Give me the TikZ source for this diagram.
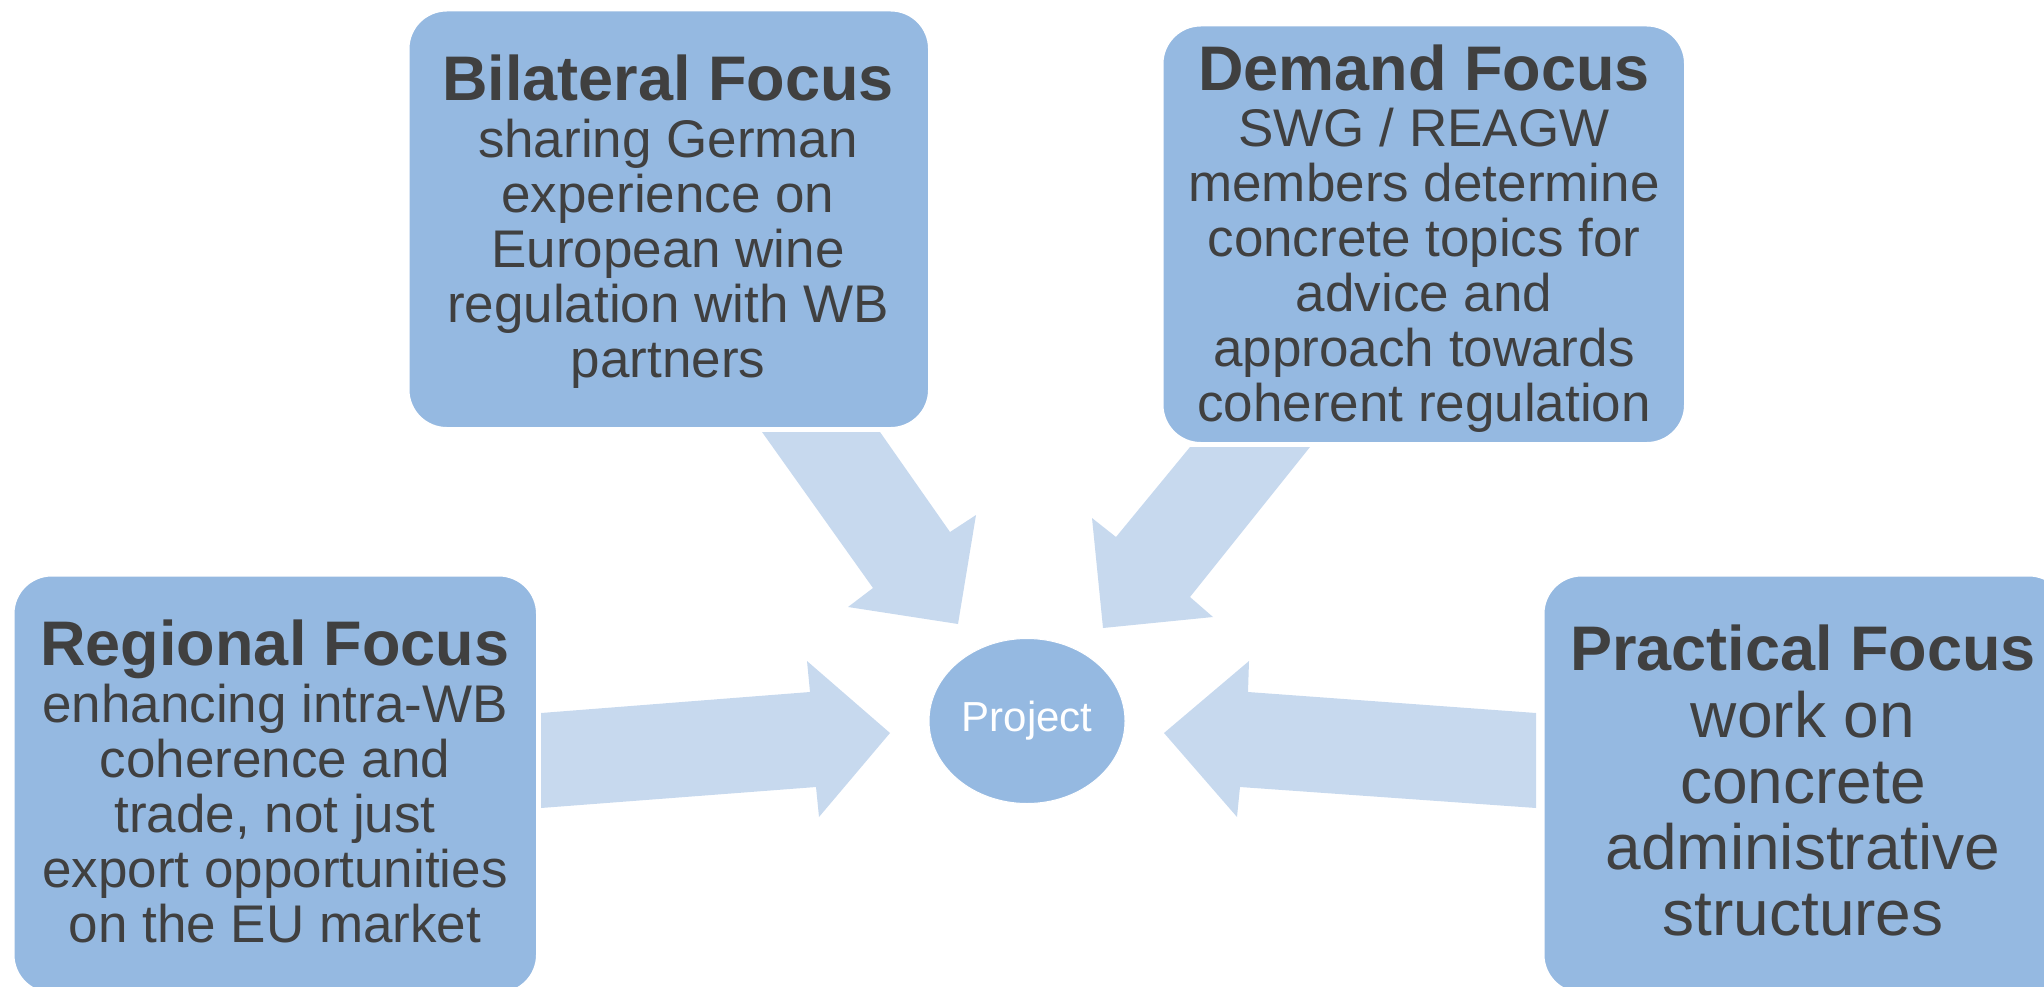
\documentclass[tikz,border=0pt]{standalone}
\usepackage{fontspec}
\setmainfont{Liberation Sans}
\usetikzlibrary{shapes.geometric}
\definecolor{boxfill}{RGB}{149,185,225}
\definecolor{arrowfill}{RGB}{199,217,238}
\definecolor{txt}{RGB}{64,64,64}
\begin{document}
\begin{tikzpicture}[x=1pt,y=-1pt,
  focusbox/.style={draw=white, line width=1.5pt, fill=boxfill, rounded corners=38pt,
    anchor=north west, minimum height=417pt, inner sep=0pt},
  blockarrow/.style={fill=arrowfill, draw=none},
  focustext/.style={anchor=base, align=center, text=txt, inner sep=0pt,
    font=\fontsize{53}{55}\selectfont},
  hub/.style={ellipse, fill=boxfill, draw=white, line width=1pt, minimum width=196pt,
    minimum height=165pt, inner sep=0pt, text=white, font=\fontsize{42}{46}\selectfont}
]
\useasboundingbox (0,0) rectangle (2044,987);

% boxes
\node[focusbox, minimum width=520pt] (bil) at (408,10) {};
\node[focusbox, minimum width=522pt] (dem) at (1162,25) {};
\node[focusbox, minimum width=523pt] (reg) at (13,575) {};
\node[focusbox, minimum width=523pt] (pra) at (1543,575) {};

% block arrows
\fill[blockarrow] (762,432) -- (880,432) -- (950,532) -- (976,515) -- (958,624)
  -- (848,607) -- (873,588) -- cycle;
\fill[blockarrow] (1190,447) -- (1310,447) -- (1190,597) -- (1213,617) -- (1103,628)
  -- (1092,518) -- (1116,537) -- cycle;
\fill[blockarrow] (541,713) -- (541,808) -- (816,787) -- (819,817) -- (890,733)
  -- (807,661) -- (810,692) -- cycle;
\fill[blockarrow] (1536,713) -- (1536,808) -- (1240,787) -- (1237,817) -- (1164,733)
  -- (1249,661) -- (1248,692) -- cycle;

% hub
\node[hub] (proj) at (1027,721) {Project};

% texts (anchor = baseline of the last line)
\node[focustext] (bilt) at (668,377) {{\fontsize{63}{55}\selectfont\bfseries Bilateral Focus}\\[2pt]
  sharing German\\ experience on\\ European wine\\ regulation with WB\\ partners};
\node[focustext] (demt) at (1424,421) {{\fontsize{63}{55}\selectfont\bfseries Demand Focus}\\[1pt]
  SWG / REAGW\\ members determine\\ concrete topics for\\ advice and\\ approach towards\\ coherent regulation};
\node[focustext] (regt) at (275,942) {{\fontsize{63}{55}\selectfont\bfseries Regional Focus}\\[2pt]
  enhancing intra-WB\\ coherence and\\ trade, not just\\ export opportunities\\ on the EU market};
\node[focustext, font=\fontsize{64}{66}\selectfont] (prat) at (1803,935) {{\fontsize{63}{66}\selectfont\bfseries Practical Focus}\\[1pt]
  work on\\ concrete\\ administrative\\ structures};
\end{tikzpicture}
\end{document}
